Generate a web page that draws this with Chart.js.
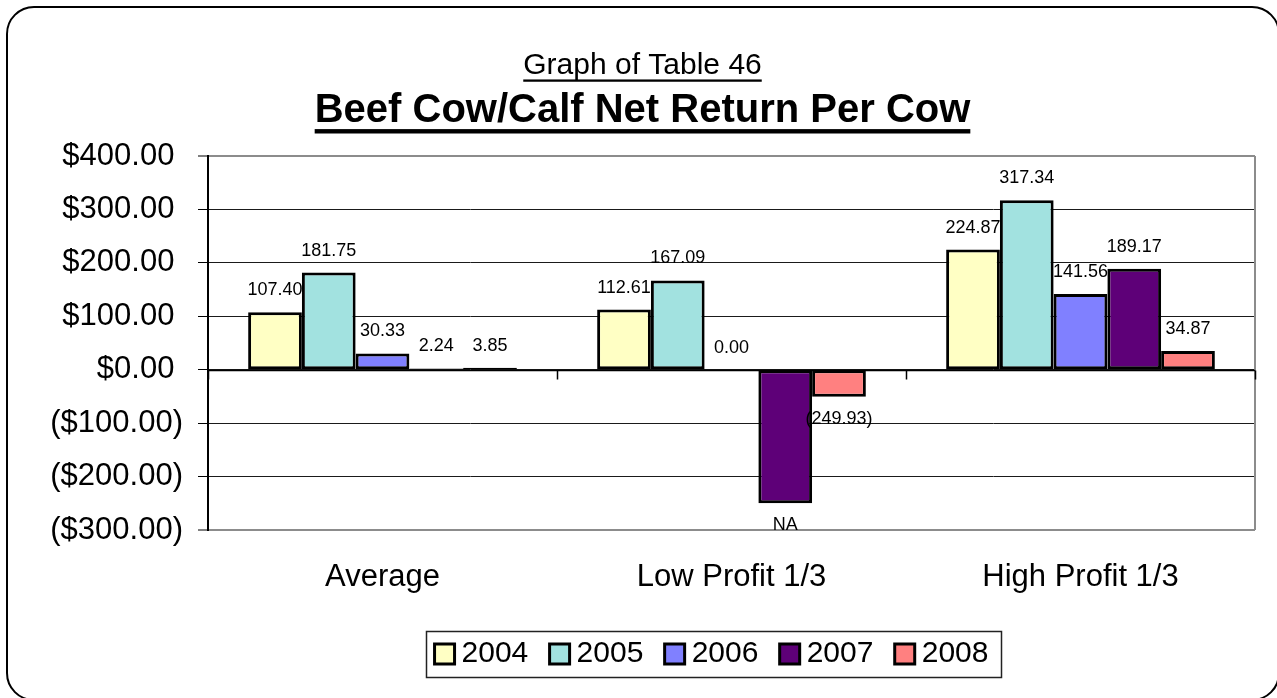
<!DOCTYPE html>
<html>
<head>
<meta charset="utf-8">
<title>Beef Cow/Calf Net Return Per Cow</title>
<script src="https://cdn.jsdelivr.net/npm/chart.js@4/dist/chart.umd.min.js"></script>
<style>
  html, body { margin: 0; padding: 0; background: #fff; overflow: hidden; }
  #wrap { position: relative; width: 1277px; height: 698px; }
  #frame {
    position: absolute; left: 6px; top: 6px; width: 1274px; height: 695px;
    box-sizing: border-box; border: 2px solid #000; border-radius: 28px;
    pointer-events: none;
  }
</style>
</head>
<body>
<div id="wrap">
  <canvas id="myChart" width="1277" height="698"></canvas>
  <div id="frame"></div>
</div>
<script>
const categories = ['Average', 'Low Profit 1/3', 'High Profit 1/3'];
const years = ['2004', '2005', '2006', '2007', '2008'];

// net return per cow, one array per year, in category order
const net2004 = [107.40, 112.61, 224.87];
const net2005 = [181.75, 167.09, 317.34];
const net2006 = [30.33, 0.00, 141.56];
const net2007 = [2.24, -249.93, 189.17];
const net2008 = [3.85, -50.6, 34.87];

// label text printed by the bars where it is not just the value
const labelText2007 = [null, 'NA', null];
const labelText2008 = [null, '(249.93)', null];

const yTicks = [-300, -200, -100, 0, 100, 200, 300, 400];

const seriesColors = ['#FFFFC4', '#A2E2E0', '#8080FF', '#5E0078', '#FF8080'];

const FONT = '"Liberation Sans", Arial, Helvetica, sans-serif';
Chart.defaults.font.family = FONT;
Chart.defaults.color = '#000';

const TITLE_PAD = { top: 47.5, bottom: 0 };
const SUB_PAD = { top: 3, bottom: 21.5 };
const LEGEND_BOX_W = 4;   // legend square sits centred on this narrow slot

function money(v) {
    return v < 0 ? '($' + (-v).toFixed(2) + ')' : '$' + v.toFixed(2) + ' ';
}

function valueText(v) {
    return v < 0 ? '(' + (-v).toFixed(2) + ')' : v.toFixed(2);
}

const seriesValues = [net2004, net2005, net2006, net2007, net2008];
const seriesLabels = [[], [], [], labelText2007, labelText2008];

// underline both title lines
const underlineTitles = {
    id: 'underlineTitles',
    afterDraw(chart) {
        const ctx = chart.ctx;
        const lines = [
            { box: chart.titleBlock, opts: chart.options.plugins.title, pad: TITLE_PAD, thick: 2.3 },
            { box: chart.boxes.find(b => b !== chart.titleBlock && b.options && b.options.text === chart.options.plugins.subtitle.text),
              opts: chart.options.plugins.subtitle, pad: SUB_PAD, thick: 4.4 }
        ];
        ctx.save();
        lines.forEach(l => {
            if (!l.box) return;
            const f = l.opts.font;
            ctx.font = (f.weight || 'normal') + ' ' + f.size + 'px ' + FONT;
            const w = ctx.measureText(l.opts.text).width;
            const cx = (l.box.left + l.box.right) / 2;
            const mid = l.box.top + l.pad.top + f.size * 1.2 / 2;
            const y = mid + f.size * 0.465;
            ctx.fillStyle = '#000';
            ctx.fillRect(cx - w / 2, y, w, l.thick);
        });
        ctx.restore();
    }
};

// grey frame on the right, zero line and category ticks on it
const plotFrame = {
    id: 'plotFrame',
    beforeDatasetsDraw(chart) {
        const { ctx, chartArea: a, scales: { x, y } } = chart;
        ctx.save();
        ctx.strokeStyle = '#8C8C8C';
        ctx.lineWidth = 2;
        ctx.beginPath();
        ctx.moveTo(a.right, a.top);
        ctx.lineTo(a.right, a.bottom);
        ctx.stroke();

        const y0 = Math.round(y.getPixelForValue(0)) + 0.5;
        ctx.strokeStyle = '#000';
        ctx.lineWidth = 1.5;
        ctx.beginPath();
        ctx.moveTo(a.left, y0);
        ctx.lineTo(a.right, y0);
        const step = x.getPixelForValue(1) - x.getPixelForValue(0);
        for (let i = 0; i <= categories.length; i++) {
            const px = Math.round(x.getPixelForValue(i) - step / 2) + 0.5;
            ctx.moveTo(px, y0);
            ctx.lineTo(px, y0 + 9);
        }
        ctx.stroke();
        ctx.restore();
    }
};

// value labels above (or below) each bar
const barLabels = {
    id: 'barLabels',
    afterDatasetsDraw(chart) {
        const ctx = chart.ctx;
        ctx.save();
        ctx.font = '18px ' + FONT;
        ctx.fillStyle = '#000';
        ctx.textAlign = 'center';
        ctx.textBaseline = 'middle';
        chart.data.datasets.forEach((ds, i) => {
            chart.getDatasetMeta(i).data.forEach((bar, j) => {
                const v = ds.data[j];
                const txt = seriesLabels[i][j] || valueText(v);
                const ty = v < 0 ? bar.y + 22 : bar.y - 22;
                ctx.fillText(txt, bar.x, ty);
            });
        });
        ctx.restore();
    }
};

// nudge the legend a little left and draw a box round its entries
const legendBox = {
    id: 'legendBox',
    afterLayout(chart) {
        if (!chart.legend) return;
        chart.legend.left -= 16;
        chart.legend.right -= 16;
    },
    afterDraw(chart) {
        const hb = chart.legend && chart.legend.legendHitBoxes;
        if (!hb || !hb.length) return;
        const ctx = chart.ctx;
        const first = hb[0], last = hb[hb.length - 1];
        const mid = first.top + first.height / 2;
        const left = first.left + LEGEND_BOX_W / 2 - 10 - 9;
        const right = last.left + last.width + 12;
        ctx.save();
        ctx.strokeStyle = '#222';
        ctx.lineWidth = 1.5;
        ctx.strokeRect(Math.round(left) + 0.5, Math.round(mid - 23.3) + 0.5, Math.round(right - left), 46);
        ctx.restore();
    }
};

const ctx = document.getElementById('myChart');

new Chart(ctx, {
    type: 'bar',
    data: {
        labels: categories,
        datasets: years.map((yr, i) => ({
            label: yr,
            data: seriesValues[i],
            backgroundColor: seriesColors[i],
            borderColor: '#000',
            borderWidth: 3,
            borderSkipped: false,
            pointStyle: 'rect',
            categoryPercentage: 0.77,
            barPercentage: 1
        }))
    },
    options: {
        responsive: false,
        animation: false,
        devicePixelRatio: 1,
        layout: {
            padding: { left: 30, right: 22, top: 0, bottom: 19 }
        },
        scales: {
            x: {
                grid: { display: false, drawTicks: false },
                border: { display: false },
                ticks: {
                    color: '#000',
                    font: { size: 31 },
                    padding: 29
                },
                afterFit(scale) { scale.height = 79.7; }
            },
            y: {
                min: -300,
                max: 400,
                afterBuildTicks(scale) {
                    scale.ticks = yTicks.map(v => ({ value: v }));
                },
                afterFit(scale) { scale.width = 178; },
                grid: {
                    color: c => (c.tick && (c.tick.value === 400 || c.tick.value === -300)) ? '#8C8C8C' : '#1a1a1a',
                    lineWidth: c => (c.tick && (c.tick.value === 400 || c.tick.value === -300)) ? 2 : 1,
                    tickColor: '#000',
                    tickLength: 10,
                    tickWidth: 1
                },
                border: { display: true, color: '#000', width: 2 },
                ticks: {
                    color: '#000',
                    font: { size: 31 },
                    padding: 15,
                    callback: v => money(v)
                }
            }
        },
        plugins: {
            title: {
                display: true,
                text: 'Graph of Table 46',
                color: '#000',
                font: { size: 30, weight: 'normal' },
                padding: TITLE_PAD
            },
            subtitle: {
                display: true,
                text: 'Beef Cow/Calf Net Return Per Cow',
                color: '#000',
                font: { size: 40, weight: 'bold' },
                padding: SUB_PAD
            },
            legend: {
                position: 'bottom',
                fullSize: false,
                labels: {
                    color: '#000',
                    font: { size: 30 },
                    usePointStyle: true,
                    boxWidth: LEGEND_BOX_W,
                    boxHeight: 20,
                    padding: 29.3
                }
            },
            tooltip: { enabled: false }
        }
    },
    plugins: [plotFrame, barLabels, underlineTitles, legendBox]
});
</script>
</body>
</html>
